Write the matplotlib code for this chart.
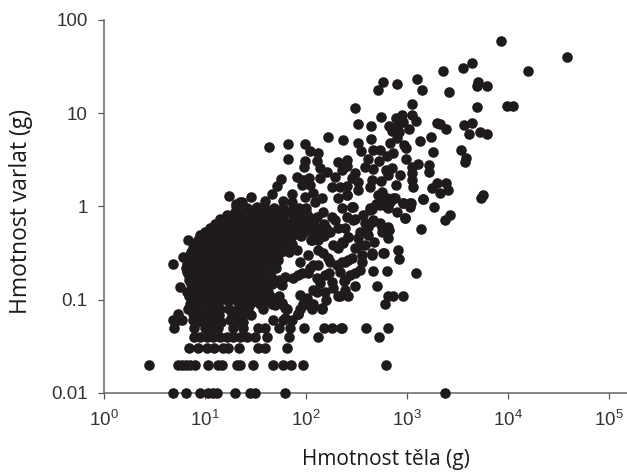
"""
hmotnost varlat vs hmotnost tela (log-log)
"""
import numpy as np
import matplotlib
matplotlib.use('Agg')
import matplotlib.pyplot as plt

plt.rcParams['font.family'] = ['Liberation Sans', 'DejaVu Sans']
plt.rcParams['mathtext.fontset'] = 'custom'
plt.rcParams['mathtext.rm'] = 'Liberation Sans'

# quantised low rows: testes mass in g, body masses in g
row_001 = [4.9, 6.6, 8.9, 10.9, 12, 13.2, 20, 28, 31.5, 63, 2370]
row_002 = [2.8, 5.4, 5.9, 6.6, 7.1, 8, 10.9, 13.6, 14.8, 20.7, 22.4, 29.9, 47.8, 60, 71.5, 93, 624]
row_003 = [7, 8.6, 10.5, 12.4, 15.3, 17.1, 21.9, 34, 39.5, 65]
row_004 = [7.8, 9, 10.5, 12.2, 14.2, 16.5, 19.2, 22.4, 26, 31.5, 41.7, 69, 133, 536]
row_005 = [5, 7.8, 10, 11.7, 13.6, 19.2, 24, 34, 39.5, 55, 70, 96, 153, 181, 222, 227, 395, 658]
row_006 = [4.9, 5.5, 5.9, 7.7, 9.7, 12.7, 17.8, 21.5, 47.8, 60, 72.6]
row_007 = [5.4, 7.7, 10.5, 13.2, 18.5, 84.5]
row_008 = [6.9, 8.3, 10.5, 13.2, 22.4, 27, 38, 65, 88, 115, 144]
row_009 = [7.1, 9, 12.2, 22.4, 28, 35, 46, 58, 95, 119]

# scattered species, log10 of g
log_body = [
    3.934, 4.584, 4.204, 3.650, 3.554, 3.356, 3.099, 2.768, 2.719, 2.904, 3.149, 3.419, 3.703, 3.693,
    3.792, 3.996, 4.049, 3.696, 3.052, 2.488, 2.518, 2.743, 2.647, 2.894, 2.95, 3.049, 3.09, 2.966,
    2.917, 2.825, 2.851, 3.023, 2.927, 2.901, 2.644, 2.372, 3.297, 3.33, 3.386, 3.567, 3.65, 3.62,
    3.726, 3.792, 3.238, 3.132, 2.835, 2.973, 2.993, 2.521, 2.548, 2.669, 2.736, 2.867, 2.802, 3.257,
    3.535, 3.584, 3.577, 2.62, 2.726, 2.993, 3.109, 3.224, 3.221, 3.049, 2.412, 2.406, 2.356, 2.587,
    2.669, 2.792, 2.851, 2.818, 2.934, 3.049, 2.488, 2.455, 2.521, 2.521, 2.406, 2.653, 2.637, 2.743,
    2.891, 3.066, 3.049, 3.248, 3.303, 3.389, 3.406, 3.33, 3.164, 3.273, 3.758, 3.735, 2.752, 2.867,
    2.768, 2.835, 2.966, 3.033, 2.693, 2.802, 2.461, 2.637,
    3.429, 3.379, 3.142, 2.983, 2.917, 2.927, 3.093, 2.768, 2.679, 2.66, 2.663, 2.802, 2.709, 2.488,
    2.818, 2.828, 2.752, 2.736, 2.653, 2.57, 2.587, 2.62, 2.471, 2.637, 2.471, 2.521, 2.538, 2.422,
    2.372, 2.554, 2.554, 2.538, 2.455, 2.389, 2.439, 2.389, 2.422, 2.34, 2.785, 2.818, 2.867, 2.966,
    2.323, 2.273, 2.191, 2.109, 2.198, 2.158, 2.059, 1.976, 1.927, 1.944, 2.01, 2.075, 1.795, 1.762,
    2.379, 2.488, 2.234, 2.109, 2.026, 1.96, 1.877, 1.795, 1.762, 2.075, 2.241, 2.307, 2.356, 2.422,
    2.323, 2.273, 2.356, 2.422, 2.587, 2.653, 2.775, 2.174, 2.224, 1.944, 2.604,
    1.637, 1.828, 1.993, 1.822, 2.224, 2.043, 2.119, 1.993, 1.986, 2.109, 2.142, 2.208, 2.142, 2.317,
    2.29, 2.257, 2.34, 2.406, 2.323, 2.406, 1.752, 1.911, 1.976, 2.036, 1.96, 2.043, 1.713, 1.669,
    1.455, 1.366, 1.597, 1.861, 1.778, 1.861, 1.993, 2.075, 2.158, 2.092, 2.356, 2.455, 2.174, 2.257,
    2.109, 2.406, 2.488, 2.669, 2.752, 2.818, 2.653, 2.736, 2.719, 2.802, 2.884, 2.818, 2.901, 2.966,
    3.04, 3.033, 2.983, 3.158,
    1.241, 1.31, 1.35, 1.152, 1.218, 1.317, 1.307, 1.432, 1.515, 0.838, 0.953, 1.069, 1.135, 0.788,
    0.689, 0.755, 0.854, 0.937,
    1.914, 1.944, 2.026, 2.123, 2.063, 2.162, 2.241, 2.32, 2.29, 2.39, 1.924, 2.043, 2.123, 2.191,
    2.34, 2.26, 2.143, 2.389, 2.538, 2.488, 2.617, 1.795, 1.696,
]
log_testes = [
    1.778, 1.606, 1.453, 1.535, 1.482, 1.453, 1.367, 1.338, 1.249, 1.313, 1.249, 1.224, 1.331, 1.292,
    1.292, 1.08, 1.08, 1.063, 1.099, 1.059, 0.884, 0.962, 0.863, 0.952, 0.981, 0.981, 0.916, 0.909,
    0.873, 0.866, 0.812, 0.827, 0.802, 0.731, 0.72, 0.712, 0.898, 0.884, 0.83, 0.87, 0.898, 0.777,
    0.795, 0.774, 0.748, 0.705, 0.684, 0.659, 0.63, 0.677, 0.595, 0.605, 0.605, 0.57, 0.541, 0.58,
    0.605, 0.523, 0.473, 0.509, 0.492, 0.505, 0.455, 0.444, 0.366, 0.426, 0.498, 0.437, 0.391, 0.426,
    0.398, 0.391, 0.409, 0.337, 0.337, 0.355, 0.355, 0.301, 0.265, 0.176, 0.123, 0.283, 0.212, 0.276,
    0.23, 0.212, 0.283, 0.194, 0.248, 0.255, 0.176, 0.14, 0.08, -0.01, 0.123, 0.087, 0.158, 0.087,
    0.069, 0.05, 0.04, 0.04, 0.026, -0.003, -0.003, -0.02,
    -0.092, -0.146, -0.246, -0.127, -0.468, -0.568, -0.718, -0.504, -0.385, -0.521, -0.693, -0.693, -0.854, -0.854,
    -0.342, -0.253, -0.271, -0.181, -0.164, -0.092, -0.181, -0.218, -0.146, -0.039, -0.003, -0.342, -0.414, -0.325,
    -0.396, -0.521, -0.593, -0.682, -0.557, -0.593, -0.736, -0.79, -0.961, -0.961, -1.047, -0.961, -0.961, -0.961,
    -0.961, -0.879, -0.915, -0.915, -1.004, -1.094, -1.094, -1.058, -1.158, -0.951, -0.986, -0.897, -1.094, -1.04,
    -0.8, -0.718, -0.718, -0.773, -0.718, -0.718, -0.773, -0.754, -0.84, -0.629, -0.593, -0.629, -0.593, -0.575,
    -0.45, -0.414, -0.379, -0.325, -0.414, -0.504, -0.504, -0.504, -0.557, -0.289, -0.2,
    0.641, 0.67, 0.67, 0.505, 0.748, 0.598, 0.576, 0.49, 0.42, 0.49, 0.409, 0.366, 0.302, 0.48,
    0.312, 0.211, 0.205, 0.219, 0.093, 0.122, 0.294, 0.319, 0.283, 0.301, 0.23, 0.23, 0.219, 0.133,
    0.104, 0.051, 0.061, 0.133, 0.061, 0.051, 0.104, 0.141, 0.087, 0.051, -0.02, -0.003, -0.057, -0.111,
    -0.111, -0.117, -0.138, -0.146, -0.218, -0.218, -0.031, 0.015, 0.122, 0.087, 0.087, -0.02, -0.057, 0.033,
    0.033, -0.01, -0.127, 0.08,
    0.115, 0.026, 0.051, -0.138, -0.092, -0.092, 0.007, -0.039, -0.003, -0.361, -0.307, -0.246, -0.246, -0.54,
    -0.618, -0.862, -0.607, -0.486,
    -0.468, -0.597, -0.521, -0.468, -0.361, -0.318, -0.275, -0.232, -0.146, -0.232, -0.736, -0.661, -0.629, -0.736,
    -0.704, -0.811, -0.822, -0.897, -0.275, -0.446, -0.307, -1.2, -1.058,
]

# dense core, log10 body mass per testes level
core_m124 = [0.92, 1.0, 1.08, 1.16, 1.3, 1.38]
core_m117 = [0.9, 0.98, 1.06, 1.14, 1.3, 1.38, 1.46]
core_m110 = [0.88, 0.97, 1.06, 1.15, 1.24, 1.33, 1.42]
core_m102 = [0.87, 0.96, 1.05, 1.14, 1.23, 1.32, 1.41, 1.5, 1.59, 1.68]
core_m096 = [0.84, 0.93, 1.02, 1.11, 1.2, 1.29, 1.38, 1.47, 1.56, 1.65, 1.74]
core_m092 = [0.82, 0.91, 1.0, 1.09, 1.18, 1.27, 1.36, 1.45, 1.54, 1.63]
core_m088 = [0.88, 0.97, 1.06, 1.15, 1.24, 1.33, 1.42, 1.51, 1.6]
core_m083 = [0.86, 0.95, 1.04, 1.13, 1.22, 1.31, 1.4, 1.49, 1.58, 1.67, 1.76]
core_m079 = [0.84, 0.93, 1.02, 1.11, 1.2, 1.29, 1.38, 1.47, 1.53, 1.65, 1.74]
core_m075 = [0.84, 0.93, 1.02, 1.11, 1.2, 1.29, 1.38, 1.47, 1.56, 1.66]
core_m070 = [0.82, 0.91, 1.0, 1.09, 1.18, 1.27, 1.36, 1.45, 1.54, 1.6]
core_m066 = [0.81, 0.9, 0.99, 1.08, 1.17, 1.26, 1.35, 1.44, 1.53, 1.62, 1.71]
core_m062 = [0.82, 0.91, 1.0, 1.09, 1.18, 1.27, 1.36, 1.45, 1.54, 1.63, 1.69]
core_m058 = [0.83, 0.92, 1.01, 1.1, 1.19, 1.28, 1.37, 1.46, 1.55, 1.64, 1.73]
core_m053 = [0.84, 0.93, 1.02, 1.11, 1.2, 1.29, 1.38, 1.47, 1.56, 1.65, 1.72]
core_m049 = [0.86, 0.95, 1.04, 1.13, 1.22, 1.31, 1.4, 1.49, 1.58, 1.67, 1.76, 1.83]
core_m045 = [0.88, 0.97, 1.06, 1.15, 1.24, 1.33, 1.42, 1.51, 1.6, 1.69, 1.78]
core_m040 = [0.9, 0.99, 1.08, 1.17, 1.26, 1.35, 1.44, 1.53, 1.62, 1.71, 1.8, 1.86]
core_m036 = [0.93, 1.02, 1.11, 1.2, 1.29, 1.38, 1.47, 1.56, 1.65, 1.74, 1.82, 2.05, 2.12]
core_m032 = [0.96, 1.05, 1.14, 1.23, 1.32, 1.41, 1.5, 1.59, 1.68, 1.77, 1.86, 1.95, 2.1, 2.18]
core_m028 = [1.0, 1.09, 1.18, 1.27, 1.36, 1.45, 1.54, 1.63, 1.72, 1.81, 1.9, 1.98, 2.06, 2.14, 2.22]
core_m024 = [1.05, 1.14, 1.23, 1.32, 1.41, 1.5, 1.59, 1.68, 1.77, 1.86, 1.95, 2.02, 2.1, 2.2]
core_m019 = [1.1, 1.19, 1.28, 1.37, 1.46, 1.55, 1.64, 1.73, 1.82, 1.91, 1.98, 2.08, 2.18]
core_m015 = [1.15, 1.24, 1.33, 1.42, 1.51, 1.6, 1.69, 1.78, 1.87, 1.96, 2.04]
core_m010 = [1.24, 1.33, 1.42, 1.51, 1.6, 1.69, 1.78, 1.87, 1.96, 2.02]
core_m006 = [1.3, 1.39, 1.48, 1.57, 1.66, 1.75, 1.84, 1.93, 2.0]
core_m002 = [1.42, 1.51, 1.6, 1.69, 1.78, 1.87, 1.93, 2.0]

fig = plt.figure(figsize=(6.27, 4.72), dpi=100)
ax = fig.add_axes([103.7 / 627, (472 - 392.7) / 472, (627 - 103.7) / 627, (392.7 - 20) / 472])

low_rows = [(0.01, row_001), (0.02, row_002), (0.03, row_003), (0.04, row_004), (0.05, row_005),
            (0.06, row_006), (0.07, row_007), (0.08, row_008), (0.09, row_009)]
core_rows = [(-1.24, core_m124), (-1.17, core_m117), (-1.10, core_m110), (-1.02, core_m102),
             (-0.96, core_m096), (-0.92, core_m092), (-0.88, core_m088), (-0.83, core_m083),
             (-0.79, core_m079), (-0.745, core_m075), (-0.70, core_m070), (-0.66, core_m066),
             (-0.62, core_m062), (-0.575, core_m058), (-0.53, core_m053), (-0.49, core_m049),
             (-0.45, core_m045), (-0.405, core_m040), (-0.36, core_m036), (-0.32, core_m032),
             (-0.28, core_m028), (-0.235, core_m024), (-0.19, core_m019), (-0.145, core_m015),
             (-0.10, core_m010), (-0.06, core_m006), (-0.02, core_m002)]

style = dict(s=58, c='#1f1b1c', linewidths=0, clip_on=False, zorder=3)
for y_val, xs in low_rows:
    ax.scatter(xs, [y_val] * len(xs), **style)
for y_log, xs in core_rows:
    ax.scatter(10 ** np.array(xs), [10 ** y_log] * len(xs), **style)
ax.scatter(10 ** np.array(log_body), 10 ** np.array(log_testes), **style)

ax.set_xscale('log')
ax.set_yscale('log')
ax.set_xlim(1, 10 ** 5.181)
ax.set_ylim(0.01, 100)
ax.set_xticks([1, 10, 100, 1000, 10000, 100000])
ax.set_xticklabels(['$\\mathdefault{10^{%d}}$' % i for i in range(6)])
ax.set_yticks([0.01, 0.1, 1, 10, 100])
ax.set_yticklabels(['0.01', '0.1', '1', '10', '100'])
ax.minorticks_off()

for side in ['top', 'right']:
    ax.spines[side].set_visible(False)
for side in ['left', 'bottom']:
    ax.spines[side].set_color('#666666')
    ax.spines[side].set_linewidth(1.1)
ax.tick_params(axis='x', length=4.5, width=0.9, color='#555555', labelsize=13.5, labelcolor='#333333', pad=8)
ax.tick_params(axis='y', length=4.5, width=0.9, color='#555555', labelsize=13.5, labelcolor='#333333', pad=7)

fig.text(386 / 627, 1 - 460 / 472, 'Hmotnost těla (g)', family='Open Sans', fontsize=15, color='#1a1a1a',
         ha='center', va='center')
fig.text(21 / 627, 1 - 211 / 472, 'Hmotnost varlat (g)', family='Open Sans', fontsize=16.5, color='#1a1a1a',
         rotation=90, ha='center', va='center')

fig.savefig('out.png', dpi=100)
